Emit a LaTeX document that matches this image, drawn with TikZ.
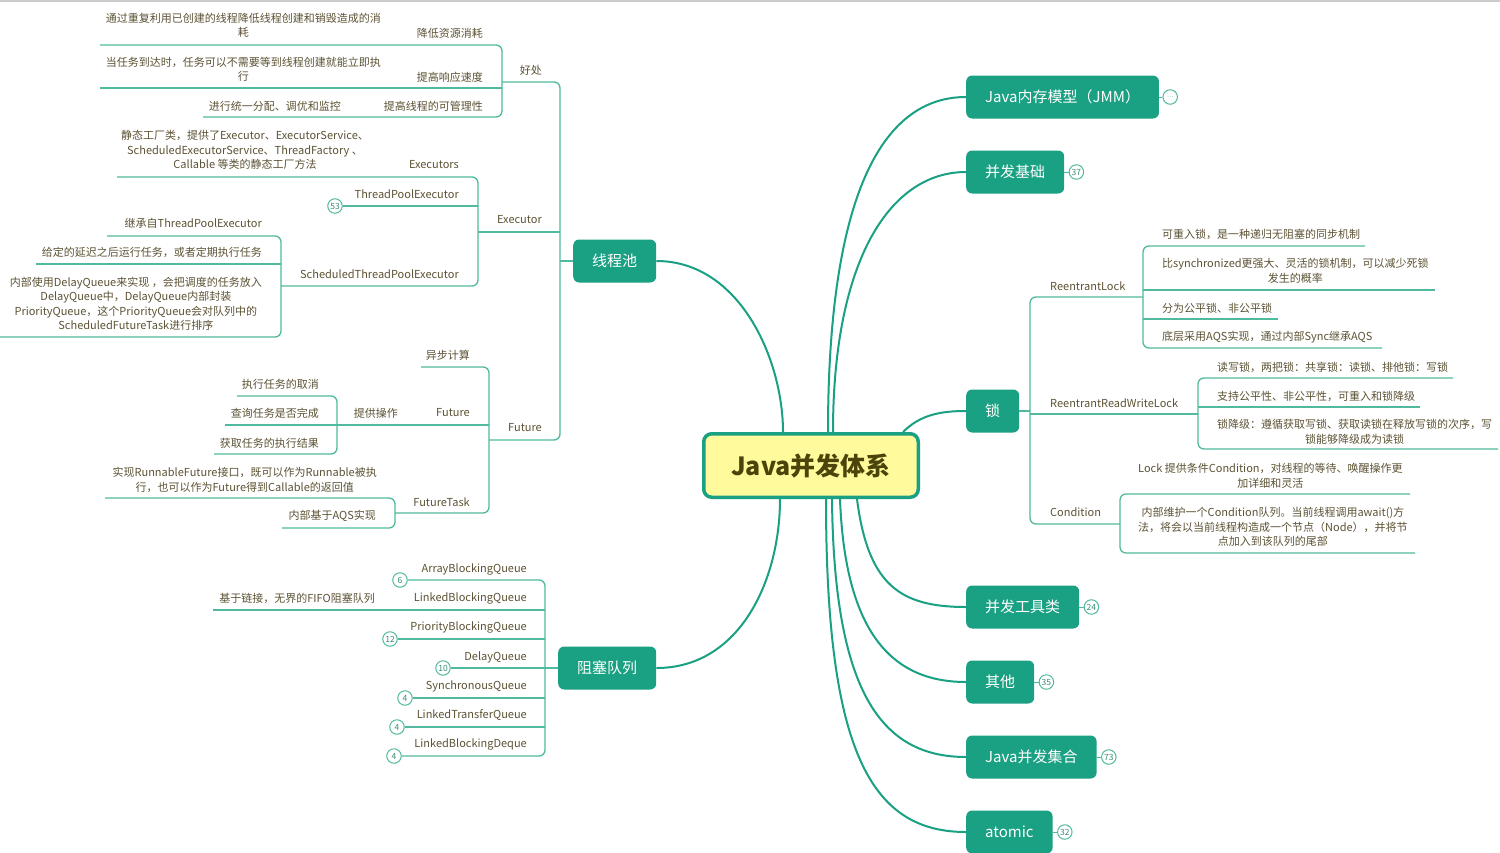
\documentclass[tikz,border=0pt]{standalone}
\usepackage{fontspec}
\setmainfont{Noto Sans CJK SC}
\definecolor{teal1}{RGB}{26,160,130}
\definecolor{line1}{RGB}{80,185,158}
\definecolor{txt}{RGB}{92,82,52}
\definecolor{yel}{RGB}{255,250,155}
\definecolor{ctxt}{RGB}{75,68,10}
\definecolor{btxt}{RGB}{60,140,118}
\begin{document}
\begin{tikzpicture}[x=1pt,y=-1pt,
  mainnode/.style={fill=teal1, rounded corners=6pt, text=white, font=\fontsize{15}{18}\selectfont, minimum height=43pt, inner xsep=19pt, inner ysep=0pt, anchor=west},
  lbl/.style={text=txt, font=\fontsize{11}{14.5}\selectfont, inner sep=0pt, align=center},
  lr/.style={lbl, anchor=east},
  ll/.style={lbl, anchor=west},
  sub/.style={draw=line1, line width=1.3pt, rounded corners=6pt},
  big/.style={draw=teal1, line width=2pt},
  badge/.style={circle, draw=line1, fill=white, line width=1pt, minimum size=14.5pt, inner sep=0pt, font=\fontsize{8.5}{8.5}\selectfont, text=btxt}
]
\useasboundingbox (0,0) rectangle (1500,852);
\fill[white] (0,0) rectangle (1500,852);
\draw[gray!40, line width=1.5pt] (0,0.75) -- (1500,0.75);

% ---------- central node ----------
\node[draw=teal1, line width=3.5pt, fill=yel, rounded corners=8pt, minimum width=214.5pt, minimum height=63.5pt, font=\fontsize{25}{30}\selectfont\bfseries, text=ctxt] (root) at (811,465.5) {Java并发体系};

% ---------- main nodes ----------
\node[mainnode] (jmm) at (966,97) {Java内存模型（JMM）};
\node[mainnode] (base) at (966,172) {并发基础};
\node[mainnode] (lock) at (966,411) {锁};
\node[mainnode] (tool) at (966,607) {并发工具类};
\node[mainnode] (other) at (966,682) {其他};
\node[mainnode] (coll) at (966,757) {Java并发集合};
\node[mainnode] (atom) at (966,832) {atomic};
\node[mainnode] (pool) at (573,261) {线程池};
\node[mainnode] (bq) at (558,668) {阻塞队列};

% badges of main nodes
\node[badge, font=\fontsize{6}{6}\selectfont] (bjmm) at ([xshift=11pt]jmm.east) {⋯};
\node[badge] (b37) at ([xshift=12pt]base.east) {37};
\node[badge] (b24) at ([xshift=12pt]tool.east) {24};
\node[badge] (b35) at ([xshift=12pt]other.east) {35};
\node[badge] (b73) at ([xshift=12pt]coll.east) {73};
\node[badge] (b32) at ([xshift=12pt]atom.east) {32};
\foreach \n/\b in {jmm/bjmm,base/b37,tool/b24,other/b35,coll/b73,atom/b32}
  \draw[line1, line width=1pt] (\n.east) -- (\b.west);

% ---------- main curves ----------
\draw[big] ([xshift=-28pt]root.north) .. controls (783,360) and (740,261) .. (pool.east);
\draw[big] ([xshift=-31pt]root.south) .. controls (780,580) and (740,668) .. (bq.east);
\draw[big] ([xshift=17pt]root.north) .. controls (828,200) and (880,97) .. (jmm.west);
\draw[big] ([xshift=22pt]root.north) .. controls (833,260) and (890,172) .. (base.west);
\draw[big] ([xshift=92pt]root.north) .. controls (920,415) and (940,411) .. (lock.west);
\draw[big] ([xshift=46pt]root.south) .. controls (868,585) and (900,607) .. (tool.west);
\draw[big] ([xshift=29pt]root.south) .. controls (845,630) and (890,682) .. (other.west);
\draw[big] ([xshift=21pt]root.south) .. controls (834,690) and (880,757) .. (coll.west);
\draw[big] ([xshift=15pt]root.south) .. controls (826,750) and (870,832) .. (atom.west);

% ---------- 线程池 subtree ----------
\draw[sub] (502,82) -- (560,82) -- (560,440) -- (489,440);
\draw[sub] (560,261) -- (pool.west);
\draw[sub] (478,232) -- (560,232);
\node[lr] (hc) at (542,70) {好处};
\node[lr] (ex) at (542,220) {Executor};
\node[lr] (fu) at (542,428) {Future};

% 好处
\draw[sub] (100,45) -- (502,45) -- (502,117) -- (203,117);
\draw[sub] (100,88) -- (502,88);
\node[lr] (h1) at (483,33) {降低资源消耗};
\node[lr] (h2) at (483,77) {提高响应速度};
\node[lr] (h3) at (483,106) {提高线程的可管理性};
\node[lr] (h1d) at (381,25.5) {通过重复利用已创建的线程降低线程创建和销毁造成的消\\耗};
\node[lr] (h2d) at (381,69.5) {当任务到达时，任务可以不需要等到线程创建就能立即执\\行};
\node[lr] (h3d) at (341,106) {进行统一分配、调优和监控};

% Executor
\draw[sub] (117,177) -- (478,177) -- (478,286) -- (281,286);
\node[badge] (b53) at (335,206) {53};
\draw[sub] (b53.east) -- (478,206);
\node[lr] (exs) at (459,165) {Executors};
\node[lbl] (exsd) at (245,150) {静态工厂类，提供了Executor、ExecutorService、\\ScheduledExecutorService、ThreadFactory 、\\Callable 等类的静态工厂方法};
\node[lr] (tpe) at (459,194) {ThreadPoolExecutor};
\node[lr] (stpe) at (459,274) {ScheduledThreadPoolExecutor};
\draw[sub] (107,236) -- (281,236) -- (281,337) -- (0,337);
\draw[sub] (36,264) -- (281,264);
\node[lr] (s1) at (262,223) {继承自ThreadPoolExecutor};
\node[lr] (s2) at (262,252) {给定的延迟之后运行任务，或者定期执行任务};
\node[lr] (s3) at (262,304) {内部使用DelayQueue来实现 ，会把调度的任务放入\\DelayQueue中，DelayQueue内部封装\\PriorityQueue，这个PriorityQueue会对队列中的\\ScheduledFutureTask进行排序};

% Future
\draw[sub] (421,367) -- (489,367) -- (489,513) -- (395,513);
\draw[sub] (225,425) -- (489,425);
\node[lr] (f1) at (470,355) {异步计算};
\node[lr] (f2) at (470,413) {Future};
\node[lr] (f2a) at (398,413) {提供操作};
\draw[sub] (237,396) -- (337,396) -- (337,454) -- (214,454);
\node[lr] (o1) at (319,384) {执行任务的取消};
\node[lr] (o2) at (319,413) {查询任务是否完成};
\node[lr] (o3) at (319,443) {获取任务的执行结果};
\node[lr] (f3) at (470,502) {FutureTask};
\draw[sub] (105,498) -- (395,498) -- (395,528) -- (282,528);
\node[lr] (f3a) at (377,480) {实现RunnableFuture接口，既可以作为Runnable被执\\行，也可以作为Future得到Callable的返回值};
\node[lr] (f3b) at (376,516) {内部基于AQS实现};

% ---------- 阻塞队列 subtree ----------
\node[badge] (q6) at (400,580) {6};
\node[badge] (q12) at (390,639) {12};
\node[badge] (q10) at (443,668) {10};
\node[badge] (q4a) at (405,698) {4};
\node[badge] (q4b) at (397,727) {4};
\node[badge] (q4c) at (394,756) {4};
\draw[sub] (q6.east) -- (545,580) -- (545,756) -- (q4c.east);
\draw[sub] (213,610) -- (545,610);
\draw[sub] (q12.east) -- (545,639);
\draw[sub] (q10.east) -- (bq.west);
\draw[sub] (q4a.east) -- (545,698);
\draw[sub] (q4b.east) -- (545,727);
\node[lr] (a1) at (527,569) {ArrayBlockingQueue};
\node[lr] (a2) at (527,598) {LinkedBlockingQueue};
\node[lr] (a2d) at (375,598) {基于链接，无界的FIFO阻塞队列};
\node[lr] (a3) at (527,627) {PriorityBlockingQueue};
\node[lr] (a4) at (527,657) {DelayQueue};
\node[lr] (a5) at (527,686) {SynchronousQueue};
\node[lr] (a6) at (527,715) {LinkedTransferQueue};
\node[lr] (a7) at (527,744) {LinkedBlockingDeque};

% ---------- 锁 subtree ----------
\draw[sub] (lock.east) -- (1030,411);
\draw[sub] (1143,297) -- (1030,297) -- (1030,524) -- (1120,524);
\draw[sub] (1030,414) -- (1198,414);
\node[ll] (rl) at (1050,286) {ReentrantLock};
\node[ll] (rrwl) at (1050,403) {ReentrantReadWriteLock};
\node[ll] (cond) at (1050,512) {Condition};

\draw[sub] (1365,246) -- (1143,246) -- (1143,348) -- (1382,348);
\draw[sub] (1143,290) -- (1435,290);
\draw[sub] (1143,319) -- (1278,319);
\node[ll] (r1) at (1162,234) {可重入锁，是一种递归无阻塞的同步机制};
\node[ll] (r2) at (1162,271) {比synchronized更强大、灵活的锁机制，可以减少死锁\\发生的概率};
\node[ll] (r3) at (1162,308) {分为公平锁、非公平锁};
\node[ll] (r4) at (1162,337) {底层采用AQS实现，通过内部Sync继承AQS};

\draw[sub] (1453,378) -- (1198,378) -- (1198,449) -- (1498,449);
\draw[sub] (1198,407) -- (1420,407);
\node[ll] (w1) at (1217,367) {读写锁，两把锁：共享锁：读锁、排他锁：写锁};
\node[ll] (w2) at (1217,396) {支持公平性、非公平性，可重入和锁降级};
\node[ll] (w3) at (1217,432) {锁降级：遵循获取写锁、获取读锁在释放写锁的次序，写\\锁能够降级成为读锁};

\draw[sub] (1410,494) -- (1120,494) -- (1120,553) -- (1415,553);
\node[ll] (c1) at (1138,476) {Lock 提供条件Condition，对线程的等待、唤醒操作更\\加详细和灵活};
\node[ll] (c2) at (1138,527) {内部维护一个Condition队列。当前线程调用await()方\\法，将会以当前线程构造成一个节点（Node），并将节\\点加入到该队列的尾部};
\end{tikzpicture}
\end{document}
